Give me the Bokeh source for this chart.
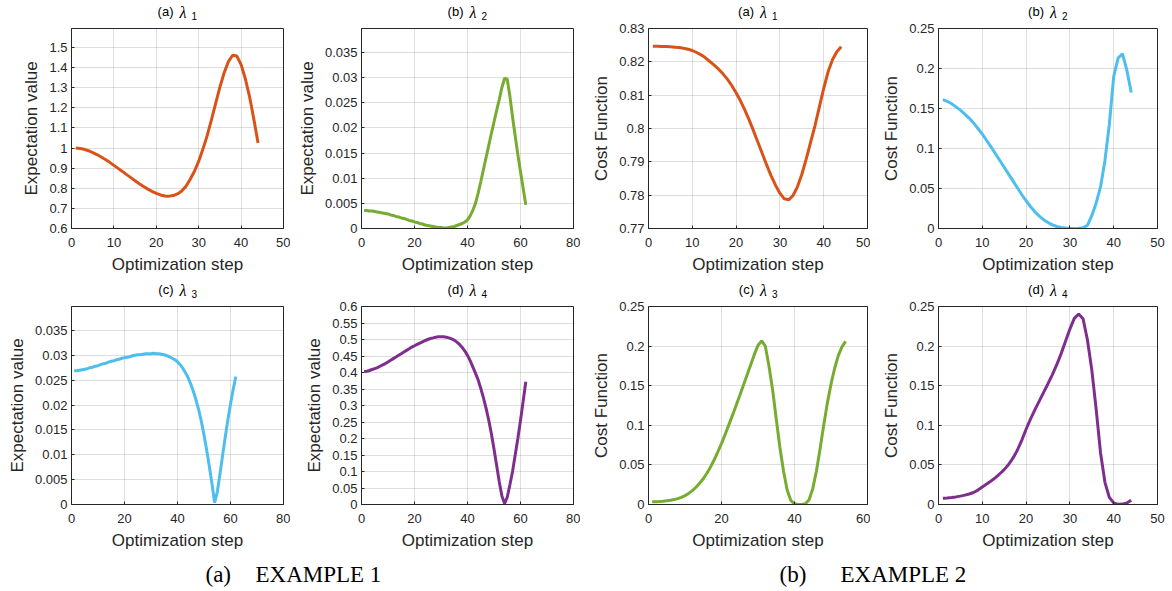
from bokeh.plotting import figure
from bokeh.layouts import column, row
from bokeh.models import Range1d, FixedTicker, CustomJSTickFormatter, Label
from bokeh.embed import file_html
from bokeh.resources import INLINE

# ---------------- data ----------------
# EXAMPLE 1 : expectation values
ex1_lambda1 = [1.000, 0.998, 0.994, 0.987, 0.978, 0.968, 0.956, 0.943, 0.929, 0.914,
               0.899, 0.884, 0.868, 0.853, 0.838, 0.823, 0.809, 0.796, 0.785, 0.775,
               0.767, 0.762, 0.761, 0.764, 0.772, 0.786, 0.810, 0.845, 0.885, 0.935,
               0.995, 1.062, 1.140, 1.222, 1.303, 1.375, 1.430, 1.462, 1.458, 1.415,
               1.345, 1.255, 1.145, 1.025]
ex1_lambda2 = [0.0036, 0.0036, 0.0035, 0.0035, 0.0034, 0.0033, 0.0032, 0.0031, 0.0030, 0.0029,
               0.0027, 0.0026, 0.0024, 0.0023, 0.0021, 0.0020, 0.0018, 0.0016, 0.0015, 0.0013,
               0.0012, 0.0010, 0.0009, 0.0007, 0.0006, 0.0005, 0.0004, 0.0003, 0.0002, 0.0002,
               0.0001, 0.0001, 0.0002, 0.0003, 0.0004, 0.0006, 0.0008, 0.0010, 0.0013, 0.0017,
               0.0025, 0.0036, 0.0050, 0.0070, 0.0093, 0.0117, 0.0141, 0.0165, 0.0189, 0.0212,
               0.0235, 0.0257, 0.0281, 0.0299, 0.0297, 0.0263, 0.0222, 0.0184, 0.0147, 0.0113,
               0.0080, 0.0047]
ex1_lambda3 = [0.0269, 0.0269, 0.0270, 0.0271, 0.0272, 0.0273, 0.0275, 0.0276, 0.0278, 0.0279,
               0.0281, 0.0283, 0.0284, 0.0286, 0.0288, 0.0289, 0.0291, 0.0292, 0.0294, 0.0295,
               0.0296, 0.0297, 0.0299, 0.0300, 0.0301, 0.0301, 0.0302, 0.0303, 0.0303, 0.0303,
               0.0304, 0.0303, 0.0303, 0.0302, 0.0301, 0.0299, 0.0297, 0.0294, 0.0291, 0.0287,
               0.0281, 0.0274, 0.0265, 0.0255, 0.0242, 0.0227, 0.0210, 0.0190, 0.0167, 0.0140,
               0.0110, 0.0077, 0.0042, 0.0004, 0.0025, 0.0060, 0.0098, 0.0135, 0.0170, 0.0202,
               0.0231, 0.0257]
ex1_lambda4 = [0.403, 0.404, 0.406, 0.409, 0.412, 0.415, 0.419, 0.423, 0.427, 0.432,
               0.437, 0.442, 0.447, 0.452, 0.457, 0.462, 0.467, 0.472, 0.477, 0.481,
               0.485, 0.489, 0.493, 0.497, 0.500, 0.503, 0.505, 0.507, 0.508, 0.508,
               0.508, 0.507, 0.505, 0.502, 0.498, 0.492, 0.485, 0.476, 0.465, 0.452,
               0.436, 0.417, 0.398, 0.378, 0.352, 0.324, 0.292, 0.256, 0.215, 0.168,
               0.118, 0.068, 0.025, 0.003, 0.022, 0.060, 0.100, 0.150, 0.200, 0.255,
               0.313, 0.372]

# EXAMPLE 2 : cost function
ex2_lambda1 = [0.8247, 0.8247, 0.8246, 0.8246, 0.8245, 0.8244, 0.8243, 0.8241, 0.8238, 0.8234,
               0.8228, 0.8221, 0.8212, 0.8201, 0.8190, 0.8178, 0.8164, 0.8148, 0.8129, 0.8107,
               0.8083, 0.8055, 0.8025, 0.7992, 0.7958, 0.7924, 0.7890, 0.7858, 0.7830, 0.7806,
               0.7789, 0.7786, 0.7799, 0.7825, 0.7862, 0.7908, 0.7958, 0.8008, 0.8064, 0.8120,
               0.8170, 0.8206, 0.8230, 0.8245]
ex2_lambda2 = [0.1610, 0.1590, 0.1560, 0.1520, 0.1480, 0.1430, 0.1380, 0.1320, 0.1250, 0.1180,
               0.1100, 0.1020, 0.0935, 0.0850, 0.0765, 0.0680, 0.0595, 0.0510, 0.0425, 0.0347,
               0.0275, 0.0210, 0.0155, 0.0110, 0.0075, 0.0045, 0.0025, 0.0013, 0.0005, 0.0002,
               0.0001, 0.0003, 0.0010, 0.0040, 0.0160, 0.0320, 0.0520, 0.0850, 0.1300, 0.1900,
               0.2130, 0.2185, 0.1980, 0.1700]
ex2_lambda3 = [0.0034, 0.0035, 0.0037, 0.0041, 0.0046, 0.0053, 0.0062, 0.0074, 0.0090, 0.0112,
               0.0140, 0.0175, 0.0218, 0.0268, 0.0325, 0.0395, 0.0475, 0.0565, 0.0665, 0.0770,
               0.0885, 0.1005, 0.1125, 0.1250, 0.1375, 0.1505, 0.1635, 0.1765, 0.1895, 0.2010,
               0.2065, 0.2000, 0.1750, 0.1450, 0.1080, 0.0720, 0.0420, 0.0180, 0.0050, 0.0010,
               0.0000, 0.0000, 0.0010, 0.0060, 0.0200, 0.0420, 0.0700, 0.1000, 0.1280, 0.1520,
               0.1720, 0.1880, 0.1990, 0.2060]
ex2_lambda4 = [0.0078, 0.0082, 0.0088, 0.0096, 0.0106, 0.0118, 0.0133, 0.0152, 0.0182, 0.0222,
               0.0258, 0.0297, 0.0340, 0.0388, 0.0440, 0.0505, 0.0585, 0.0685, 0.0810, 0.0950,
               0.1078, 0.1195, 0.1305, 0.1415, 0.1525, 0.1640, 0.1765, 0.1905, 0.2060, 0.2215,
               0.2350, 0.2405, 0.2345, 0.2080, 0.1700, 0.1200, 0.0650, 0.0280, 0.0090, 0.0020,
               0.0002, 0.0005, 0.0020, 0.0055]

# tick values
xticks_50 = [0, 10, 20, 30, 40, 50]
xticks_60 = [0, 20, 40, 60]
xticks_80 = [0, 20, 40, 60, 80]
yticks_l1 = [0.6, 0.7, 0.8, 0.9, 1.0, 1.1, 1.2, 1.3, 1.4, 1.5]
yticks_small = [0, 0.005, 0.01, 0.015, 0.02, 0.025, 0.03, 0.035]
yticks_l4 = [0, 0.05, 0.1, 0.15, 0.2, 0.25, 0.3, 0.35, 0.4, 0.45, 0.5, 0.55, 0.6]
yticks_cost1 = [0.77, 0.78, 0.79, 0.8, 0.81, 0.82, 0.83]
yticks_cost = [0, 0.05, 0.1, 0.15, 0.2, 0.25]

ORANGE = "#D95319"
GREEN = "#77AC30"
BLUE = "#4DBEEE"
PURPLE = "#7E2F8E"
TXT = "#262626"
SANS = "Liberation Sans"
SERIF = "Liberation Serif"

fmt = CustomJSTickFormatter(code="return String(Number(tick.toFixed(6)));")


def blank_fig(w, h, xr, bl, br):
    f = figure(width=w, height=h, output_backend="svg", toolbar_location=None,
               x_range=Range1d(xr[0], xr[1]), y_range=Range1d(0, h),
               min_border_left=bl, min_border_right=br,
               min_border_top=0, min_border_bottom=0)
    f.axis.visible = False
    f.grid.visible = False
    f.outline_line_color = None
    f.background_fill_color = "white"
    f.border_fill_color = "white"
    return f


def make_title(letter, sub, xr, w, h, bl, br, ys):
    y_a, y_l, y_s = ys
    t = blank_fig(w, h, xr, bl, br)
    xc = (xr[0] + xr[1]) / 2.0
    t.add_layout(Label(x=xc, y=y_a, text="(" + letter + ")", text_align="right",
                       text_baseline="middle", x_offset=-4,
                       text_font=SANS, text_font_size="13px", text_color="#000000"))
    t.add_layout(Label(x=xc, y=y_l, text="\u03bb", text_align="left",
                       text_baseline="middle", x_offset=2,
                       text_font=SERIF, text_font_size="16px", text_font_style="italic",
                       text_color="#000000"))
    t.add_layout(Label(x=xc, y=y_s, text=sub, text_align="left",
                       text_baseline="middle", x_offset=14,
                       text_font=SANS, text_font_size="10px", text_color="#000000"))
    return t


def make_panel(vals, color, ylabel, xr, xticks, yr, yticks, w, h, bl, br, bt, bb):
    p = figure(width=w, height=h, output_backend="svg", toolbar_location=None,
               x_range=Range1d(xr[0], xr[1]), y_range=Range1d(yr[0], yr[1]),
               min_border_left=bl, min_border_right=br,
               min_border_top=bt, min_border_bottom=bb)
    p.background_fill_color = "white"
    p.border_fill_color = "white"
    p.outline_line_color = TXT
    p.outline_line_width = 1
    p.outline_line_alpha = 1.0

    steps = list(range(1, len(vals) + 1))
    p.line(steps, vals, line_color=color, line_width=3)

    p.xaxis.ticker = FixedTicker(ticks=xticks)
    p.yaxis.ticker = FixedTicker(ticks=yticks)
    for ax in (p.xaxis[0], p.yaxis[0]):
        ax.formatter = fmt
        ax.axis_line_color = TXT
        ax.major_tick_line_color = TXT
        ax.major_tick_in = 3
        ax.major_tick_out = 0
        ax.minor_tick_line_color = None
        ax.major_label_text_font = SANS
        ax.major_label_text_font_size = "13px"
        ax.major_label_text_color = TXT
        ax.axis_label_text_font = SANS
        ax.axis_label_text_font_size = "17px"
        ax.axis_label_text_font_style = "normal"
        ax.axis_label_text_color = TXT
    p.xaxis.axis_label = "Optimization step"
    p.yaxis.axis_label = ylabel
    p.xaxis.major_label_standoff = 9
    p.xaxis.axis_label_standoff = 5
    p.yaxis.major_label_standoff = 4
    p.yaxis.axis_label_standoff = 5

    for g in (p.xgrid[0], p.ygrid[0]):
        g.grid_line_color = TXT
        g.grid_line_alpha = 0.15
        g.grid_line_width = 1
    return p


# column geometry: (width, left border, right border)
cols = [(290, 71, 7), (290, 71, 7), (290, 68, 3), (300, 68, 13)]
# row geometry: title height, title text y's, plot height, top, bottom
title_ys = (10.0, 9.4, 5.7)
row1_geom = (21, title_ys, 257, 7, 50)
row2_geom = (21, title_ys, 253, 7, 48)

specs_row1 = [
    (ex1_lambda1, ORANGE, "a", "1", "Expectation value", (0, 50), xticks_50, (0.6, 1.595), yticks_l1),
    (ex1_lambda2, GREEN, "b", "2", "Expectation value", (0, 80), xticks_80, (0, 0.0398), yticks_small),
    (ex2_lambda1, ORANGE, "a", "1", "Cost Function", (0, 50), xticks_50, (0.77, 0.83), yticks_cost1),
    (ex2_lambda2, BLUE, "b", "2", "Cost Function", (0, 50), xticks_50, (0, 0.25), yticks_cost),
]
specs_row2 = [
    (ex1_lambda3, BLUE, "c", "3", "Expectation value", (0, 80), xticks_80, (0, 0.0398), yticks_small),
    (ex1_lambda4, PURPLE, "d", "4", "Expectation value", (0, 80), xticks_80, (0, 0.6), yticks_l4),
    (ex2_lambda3, GREEN, "c", "3", "Cost Function", (0, 60), xticks_60, (0, 0.25), yticks_cost),
    (ex2_lambda4, PURPLE, "d", "4", "Cost Function", (0, 50), xticks_50, (0, 0.25), yticks_cost),
]

rows = []
for specs, geom in ((specs_row1, row1_geom), (specs_row2, row2_geom)):
    th, tys, ph, bt, bb = geom
    titles, plots = [], []
    for (vals, color, letter, sub, ylabel, xr, xt, yr, yt), (w, bl, br) in zip(specs, cols):
        titles.append(make_title(letter, sub, xr, w, th, bl, br, tys))
        plots.append(make_panel(vals, color, ylabel, xr, xt, yr, yt, w, ph, bl, br, bt, bb))
    rows.append(row(*titles))
    rows.append(row(*plots))

# caption strip
total_w = sum(c[0] for c in cols)
cap_h = 37
cap = blank_fig(total_w, cap_h, (0, total_w), 0, 0)
caption_parts = [("(a)", 205), ("EXAMPLE 1", 255), ("(b)", 779), ("EXAMPLE 2", 840)]
for txt, xpos in caption_parts:
    cap.add_layout(Label(x=xpos, y=14.8, text=txt, text_align="left", text_baseline="middle",
                         text_font=SERIF, text_font_size="23px", text_color="#000000"))

layout = column(*rows, cap)
open("out.html", "w").write(file_html(layout, INLINE))
